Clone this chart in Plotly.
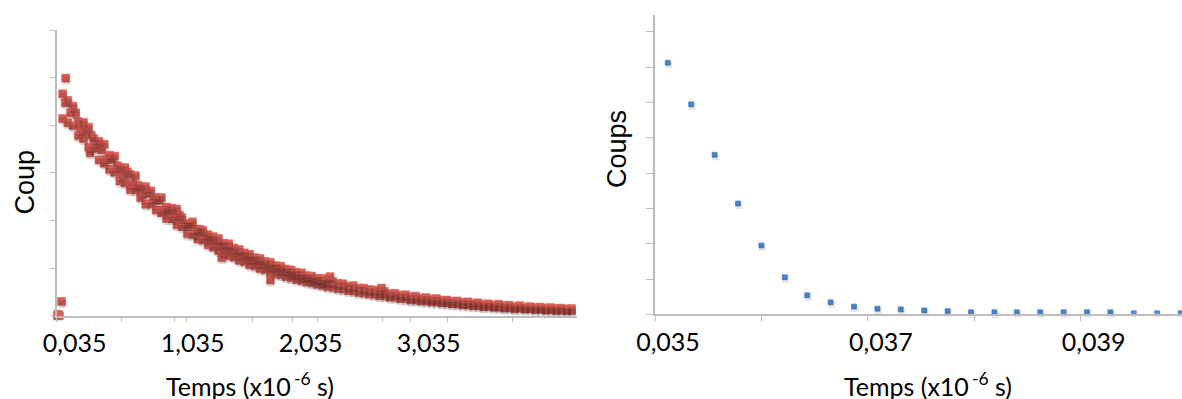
import plotly.graph_objects as go

# ---------------- Left chart: long decay (red) ----------------
red_time = [0.085, 0.129, 0.173, 0.217, 0.261, 0.305, 0.349, 0.393, 0.437, 0.481,
            0.525, 0.569, 0.613, 0.657, 0.701, 0.745, 0.789, 0.833, 0.877, 0.921,
            0.965, 1.009, 1.053, 1.097, 1.141, 1.185, 1.229, 1.273, 1.317, 1.361,
            1.405, 1.449, 1.493, 1.537, 1.581, 1.625, 1.669, 1.713, 1.757, 1.801,
            1.845, 1.889, 1.933, 1.977, 2.021, 2.065, 2.109, 2.153, 2.197, 2.241,
            2.285, 2.329, 2.373, 2.417, 2.461, 2.505, 2.549, 2.593, 2.637, 2.681,
            2.725, 2.769, 2.813, 2.857, 2.901, 2.945, 2.989, 3.033, 3.077, 3.121,
            3.165, 3.209, 3.253, 3.297, 3.341, 3.385, 3.429, 3.473, 3.517, 3.561,
            3.605, 3.649, 3.693, 3.737, 3.781, 3.825, 3.869, 3.913, 3.957, 4.001,
            4.045, 4.089, 4.133, 4.177, 4.221, 4.265, 4.309, 4.353, 4.397]
red_upper = [4.66, 4.52, 4.40, 4.08, 4.06, 3.96, 3.72, 3.66, 3.60, 3.37,
             3.35, 3.11, 3.11, 2.97, 2.94, 2.71, 2.71, 2.62, 2.48, 2.48,
             2.28, 2.26, 2.24, 2.06, 1.92, 1.97, 1.82, 1.79, 1.70, 1.66,
             1.62, 1.52, 1.51, 1.42, 1.39, 1.32, 1.29, 1.22, 1.20, 1.14,
             1.12, 1.05, 1.04, 0.98, 0.96, 0.91, 0.90, 0.84, 0.83, 0.78,
             0.78, 0.73, 0.72, 0.68, 0.67, 0.62, 0.63, 0.58, 0.58, 0.55,
             0.54, 0.50, 0.51, 0.46, 0.47, 0.43, 0.44, 0.40, 0.41, 0.37,
             0.38, 0.35, 0.36, 0.32, 0.33, 0.30, 0.31, 0.28, 0.29, 0.26,
             0.27, 0.24, 0.25, 0.22, 0.24, 0.21, 0.22, 0.19, 0.21, 0.18,
             0.19, 0.17, 0.18, 0.16, 0.17, 0.15, 0.16, 0.14, 0.15]
red_lower = [4.14, 4.05, 3.99, 3.78, 3.72, 3.54, 3.51, 3.27, 3.20, 3.07,
             3.01, 2.83, 2.79, 2.65, 2.64, 2.48, 2.34, 2.35, 2.22, 2.16,
             2.04, 2.04, 1.91, 1.87, 1.72, 1.71, 1.61, 1.59, 1.49, 1.44,
             1.37, 1.33, 1.26, 1.23, 1.16, 1.14, 1.07, 1.05, 0.99, 0.97,
             0.93, 0.88, 0.86, 0.82, 0.80, 0.76, 0.74, 0.71, 0.69, 0.66,
             0.64, 0.61, 0.60, 0.57, 0.56, 0.53, 0.52, 0.49, 0.48, 0.46,
             0.45, 0.42, 0.42, 0.39, 0.39, 0.36, 0.36, 0.33, 0.33, 0.31,
             0.31, 0.29, 0.29, 0.27, 0.27, 0.25, 0.25, 0.23, 0.23, 0.21,
             0.21, 0.19, 0.20, 0.18, 0.18, 0.16, 0.17, 0.15, 0.16, 0.14,
             0.15, 0.13, 0.14, 0.12, 0.13, 0.11, 0.12, 0.11, 0.11]
red_mid_time = [0.107, 0.151, 0.195, 0.239, 0.283, 0.327, 0.371, 0.415, 0.459, 0.503,
                0.547, 0.591, 0.635, 0.679, 0.723, 0.767, 0.811, 0.855, 0.899, 0.943,
                0.987, 1.031, 1.075, 1.119, 1.163, 1.207, 1.251, 1.295, 1.339, 1.383,
                1.427, 1.471, 1.515, 1.559, 1.603, 1.647, 1.691, 1.735, 1.779, 1.823,
                1.867, 1.911, 1.955, 1.999, 2.043, 2.087, 2.131, 2.175, 2.219, 2.263,
                2.307]
red_middle = [4.47, 4.26, 4.26, 3.90, 3.88, 3.79, 3.57, 3.48, 3.28, 3.28,
              3.15, 2.94, 3.02, 2.78, 2.74, 2.55, 2.57, 2.43, 2.42, 2.22,
              2.20, 2.07, 2.11, 1.93, 1.91, 1.73, 1.81, 1.65, 1.62, 1.52,
              1.50, 1.41, 1.40, 1.30, 1.29, 1.21, 1.20, 1.12, 1.10, 1.04,
              1.03, 0.97, 0.95, 0.90, 0.88, 0.83, 0.82, 0.77, 0.76, 0.72,
              0.71]
red_extra_time = [0.0405, 0.0493, 0.0582, 0.0449, 0.0769, 0.1111, 0.3175, 1.433, 1.845, 2.351, 2.788]
red_extra_counts = [0.0, 0.0, 0.0, 0.03, 0.30, 4.99, 3.42, 1.22, 0.75, 0.82, 0.58]
left_tick_values = [0.035, 1.035, 2.035, 3.035]

# ---------------- Right chart: first channels (blue) ----------------
blue_time = [0.03512, 0.03534, 0.03556, 0.03578, 0.03600, 0.03622, 0.03643,
             0.03665, 0.03687, 0.03709, 0.03731, 0.03753, 0.03775, 0.03797,
             0.03819, 0.03840, 0.03862, 0.03884, 0.03906, 0.03928, 0.03950,
             0.03972, 0.03994]
blue_counts = [7.13, 5.95, 4.52, 3.14, 1.95, 1.05, 0.54, 0.34, 0.22, 0.16,
               0.14, 0.11, 0.09, 0.06, 0.06, 0.06, 0.06, 0.06, 0.06, 0.06,
               0.03, 0.03, 0.03]
right_tick_values = [0.035, 0.037, 0.039]

x_title_main = "Temps (x10"
x_title_sup = "-6"
x_title_end = " s)"
left_y_title = "Coup"
right_y_title = "Coups"

red_x = red_time + red_mid_time + red_time + red_extra_time
red_y = red_upper + red_middle + red_lower + red_extra_counts

W, H = 1182, 399
RED = "#dc5f57"
BLUE = "#4f8fdc"
AX = "#bdbdbd"

def fx(p):
    return p / W

def fy(p):
    return (H - p) / H

fig = go.Figure()
fig.add_trace(go.Scatter(x=red_x, y=red_y, mode="markers", xaxis="x3", yaxis="y3",
                         marker=dict(symbol="square", size=8, color="rgba(30,10,10,0.16)"),
                         cliponaxis=False, hoverinfo="skip"))
fig.add_trace(go.Scatter(x=blue_time, y=blue_counts, mode="markers", xaxis="x4", yaxis="y4",
                         marker=dict(symbol="square", size=7, color="rgba(0,0,0,0.10)"),
                         cliponaxis=False, hoverinfo="skip"))
fig.add_trace(go.Scatter(x=red_x, y=red_y, mode="markers", xaxis="x", yaxis="y",
                         marker=dict(symbol="square", size=8, color=RED,
                                     line=dict(color="#d2564e", width=0.5)),
                         cliponaxis=False))
fig.add_trace(go.Scatter(x=blue_time, y=blue_counts, mode="markers", xaxis="x2", yaxis="y2",
                         marker=dict(symbol="square", size=5, color=BLUE,
                                     line=dict(color="#3b74bd", width=0.6)),
                         cliponaxis=False))

lx = [fx(56.7), fx(577)]
ly = [fy(315.7), fy(30)]
rx = [fx(655), 1.0]
ry = [fy(314.3), fy(15)]

tickfont = dict(family="Lato", size=25, color="black")

px_l = 118.0            # pixels per 1 (x10^-6 s) on the left chart
px_r = 106.4 / 0.001    # pixels per 1 (x10^-6 s) on the right chart
lw_px = 577 - 56.7
rw_px = 1182 - 655

def xax(domain, rng, tvals, minor_d, anchor, lw, shift):
    return dict(domain=domain, range=rng, tickmode="array", tickvals=tvals, tickformat=".3f",
                ticks="outside", ticklen=5, tickcolor=AX, tickwidth=1.2,
                showline=True, linecolor=AX, linewidth=lw, showgrid=False, zeroline=False,
                tickfont=tickfont, ticklabelshift=shift, anchor=anchor, automargin=False,
                minor=dict(tick0=rng[0], dtick=minor_d, ticks="outside", ticklen=5,
                           tickcolor=AX, tickwidth=1.2, showgrid=False))

def yax(domain, rng, anchor, lw, tl):
    return dict(domain=domain, range=rng, dtick=1, tick0=0, ticks="outside", ticklen=tl,
                tickcolor=AX, tickwidth=1.2, showticklabels=False, showline=True,
                linecolor=AX, linewidth=lw, showgrid=False, zeroline=False, anchor=anchor,
                automargin=False)

l_rng = [0.035, 0.035 + lw_px / px_l]
r_rng = [0.035, 0.035 + rw_px / px_r]
fig.update_layout(
    template="none",
    width=W, height=H, margin=dict(l=0, r=0, t=0, b=0, pad=0, autoexpand=False),
    paper_bgcolor="white", plot_bgcolor="white", showlegend=False,
    separators=", ",
    xaxis=xax(lx, l_rng, left_tick_values, 65.1 / px_l, "y", 1.5, 18),
    yaxis=yax(ly, [0, 6], "x", 1.5, 5),
    xaxis2=xax(rx, r_rng, right_tick_values, 0.001, "y2", 2, 13),
    yaxis2=yax(ry, [0, 8.48], "x2", 2, 7),
    xaxis3=dict(domain=lx, range=[l_rng[0] - 0.7 / px_l, l_rng[1] - 0.7 / px_l], visible=False,
                overlaying="x", anchor="y3"),
    yaxis3=dict(domain=ly, range=[2.5 * 6 / 285.7, 6 + 2.5 * 6 / 285.7], visible=False,
                overlaying="y", anchor="x3"),
    xaxis4=dict(domain=rx, range=[r_rng[0] - 1 / px_r, r_rng[1] - 1 / px_r], visible=False,
                overlaying="x2", anchor="y4"),
    yaxis4=dict(domain=ry, range=[2 / 35.3, 8.48 + 2 / 35.3], visible=False,
                overlaying="y2", anchor="x4"),
)

title_text = x_title_main + "\u2009<sup>" + x_title_sup + "</sup>" + x_title_end
ann_font = dict(family="Lato", size=25, color="black")
fig.add_annotation(text=title_text, xref="paper", yref="paper", x=fx(250), y=fy(384),
                   xanchor="center", yanchor="middle", showarrow=False, font=ann_font)
fig.add_annotation(text=title_text, xref="paper", yref="paper", x=fx(928), y=fy(384),
                   xanchor="center", yanchor="middle", showarrow=False, font=ann_font)
yfont = dict(family="Liberation Sans", size=27, color="black")
fig.add_annotation(text=left_y_title, xref="paper", yref="paper", x=fx(25), y=fy(182.5),
                   xanchor="center", yanchor="middle", textangle=-90, showarrow=False, font=yfont)
fig.add_annotation(text=right_y_title, xref="paper", yref="paper", x=fx(617), y=fy(149),
                   xanchor="center", yanchor="middle", textangle=-90, showarrow=False, font=yfont)

fig.write_html("out.html", config={"displayModeBar": False},
               post_script="document.body.style.margin='0px';document.body.style.overflow='hidden';")
